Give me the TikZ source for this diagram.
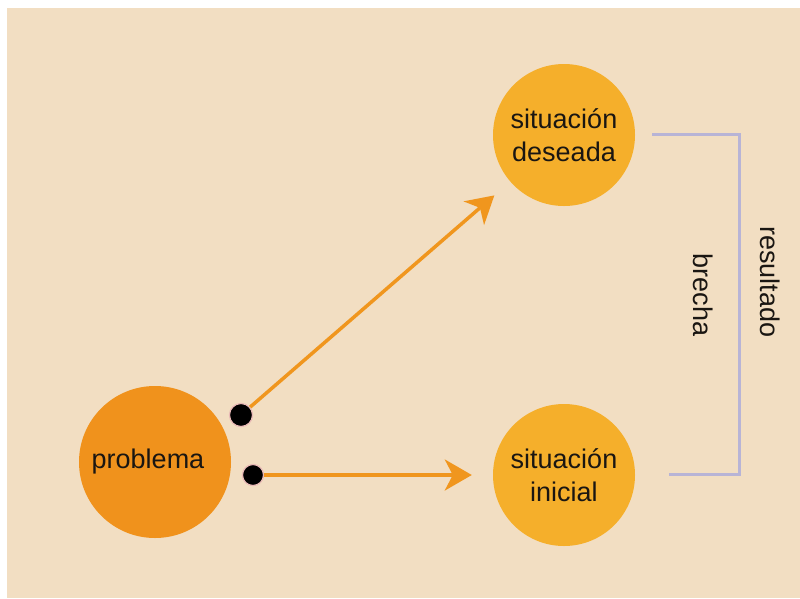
\documentclass[tikz,border=0pt]{standalone}
\usepackage{fontspec}
\setmainfont{Liberation Sans}
\usetikzlibrary{arrows.meta}
\definecolor{bgbeige}{HTML}{F2DEC2}
\definecolor{probor}{HTML}{F0921C}
\definecolor{sitor}{HTML}{F5AF2B}
\definecolor{arrowor}{HTML}{F0961E}
\definecolor{brack}{HTML}{B8B4D6}
\definecolor{txt}{HTML}{1A1612}
\definecolor{halo}{HTML}{E9B9B6}
\tikzset{
  bigcirc/.style={circle, minimum size=#1, inner sep=0pt, text=txt, align=center,
    font=\fontsize{27}{33}\selectfont},
  dotnode/.style={circle, fill=black, draw=halo, line width=1.2pt, minimum size=#1, inner sep=0pt},
  conn/.style={draw=arrowor, line width=3.5pt,
    -{Stealth[length=27pt, width=31pt, inset=8pt]}, shorten >=21pt},
  brackline/.style={draw=brack, line width=3pt},
  sidelabel/.style={rotate=-90, text=txt, font=\fontsize{27}{30}\selectfont}
}
\begin{document}
\begin{tikzpicture}[x=1pt, y=-1pt]
\useasboundingbox (0,0) rectangle (800,598);
\fill[white] (0,0) rectangle (800,598);
\fill[bgbeige] (7,8) rectangle (800,598);

\node[bigcirc=152pt, fill=probor] (prob) at (155,462) {problema\hspace*{14pt}};
\node[bigcirc=142pt, fill=sitor] (deseada) at (564,135) {situación\\deseada};
\node[bigcirc=142pt, fill=sitor] (inicial) at (564,475) {situación\\inicial};

\node[dotnode=23pt] (d1) at (241,415) {};
\node[dotnode=21pt] (d2) at (253,475) {};

\draw[conn] (d1) -- (deseada);
\draw[conn] (d2) -- (inicial);

\coordinate (b1) at (652,134);
\coordinate (b2) at (739,134);
\coordinate (b3) at (739,474);
\coordinate (b4) at (669,474);
\draw[brackline] (b1) -- (b2) -- (b3) -- (b4);

\node[sidelabel] (brecha) at (703,295) {brecha};
\node[sidelabel] (resultado) at (770,282) {resultado};
\end{tikzpicture}
\end{document}
